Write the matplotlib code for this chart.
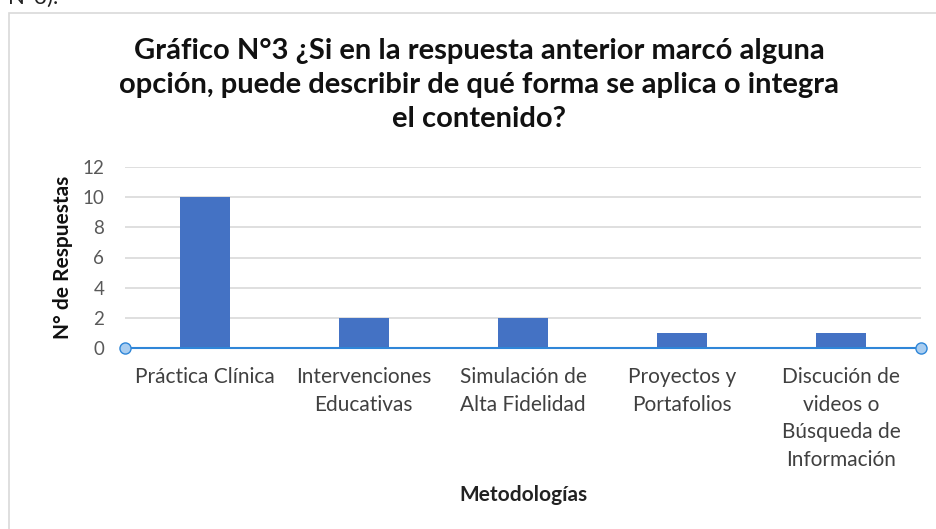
import matplotlib
matplotlib.use('Agg')
import matplotlib.pyplot as plt
from matplotlib.lines import Line2D
from matplotlib.patches import Rectangle

plt.rcParams['font.family'] = ['Lato', 'DejaVu Sans']

# datos
categorias = ['Práctica Clínica', 'Intervenciones\nEducativas',
              'Simulación de\nAlta Fidelidad', 'Proyectos y\nPortafolios',
              'Discución de\nvideos o\nBúsqueda de\nInformación']
respuestas = [10, 2, 2, 1, 1]
yticks = [0, 2, 4, 6, 8, 10, 12]
titulo = ('Gráfico N°3 ¿Si en la respuesta anterior marcó alguna\n'
          'opción, puede describir de qué forma se aplica o integra\n'
          'el contenido?')

fig = plt.figure(figsize=(9.36, 5.29), dpi=100)

# borde del area del grafico
fig.add_artist(Rectangle((8.5 / 936, -0.1), 1.2, (529 - 12.5) / 529 + 0.1,
                         transform=fig.transFigure, fill=False,
                         edgecolor='#d9d9d9', linewidth=1.2))
# texto cortado arriba
fig.text(8 / 936, 1.0 + 12 / 529, 'N°3).', fontsize=16, color='#222222',
         ha='left', va='top')

ax = fig.add_axes([125 / 936, 181 / 529, 796 / 936, 181 / 529])
x = range(len(categorias))
ax.bar(x, respuestas, width=0.315, color='#4472c4', zorder=3)
ax.set_xlim(-0.5, len(categorias) - 0.5)
ax.set_ylim(0, 12)
ax.set_yticks(yticks)
ax.set_yticklabels([str(v) for v in yticks])
ax.yaxis.grid(True, color='#d9d9d9', linewidth=1.2, zorder=0)
for s in ax.spines.values():
    s.set_visible(False)
ax.tick_params(axis='y', length=0, pad=15, labelsize=13.5, labelcolor='#595959')
ax.set_xticks(list(x))
ax.set_xticklabels(categorias, fontsize=15, color='#404040', linespacing=1.46,
                   va='top')
ax.tick_params(axis='x', length=0, pad=14)

# eje horizontal con marcadores en los extremos
ax.add_line(Line2D([-0.5, len(categorias) - 0.5], [0, 0], color='#2f86d8',
                   linewidth=1.5, marker='o', markersize=8,
                   markerfacecolor='#a9cdf0', markeredgecolor='#2f86d8',
                   clip_on=False, zorder=4))

ax.set_ylabel('N° de Respuestas', fontsize=15, fontweight='bold',
              color='#111111', labelpad=7)
ax.set_xlabel('Metodologías', fontsize=15, fontweight='bold',
              color='#222222', labelpad=11)

fig.text(479 / 936, 1 - 38 / 529, titulo, ha='center', va='top',
         fontsize=21, fontweight='bold', color='#111111', linespacing=1.38)

fig.savefig('out.png', dpi=100)
